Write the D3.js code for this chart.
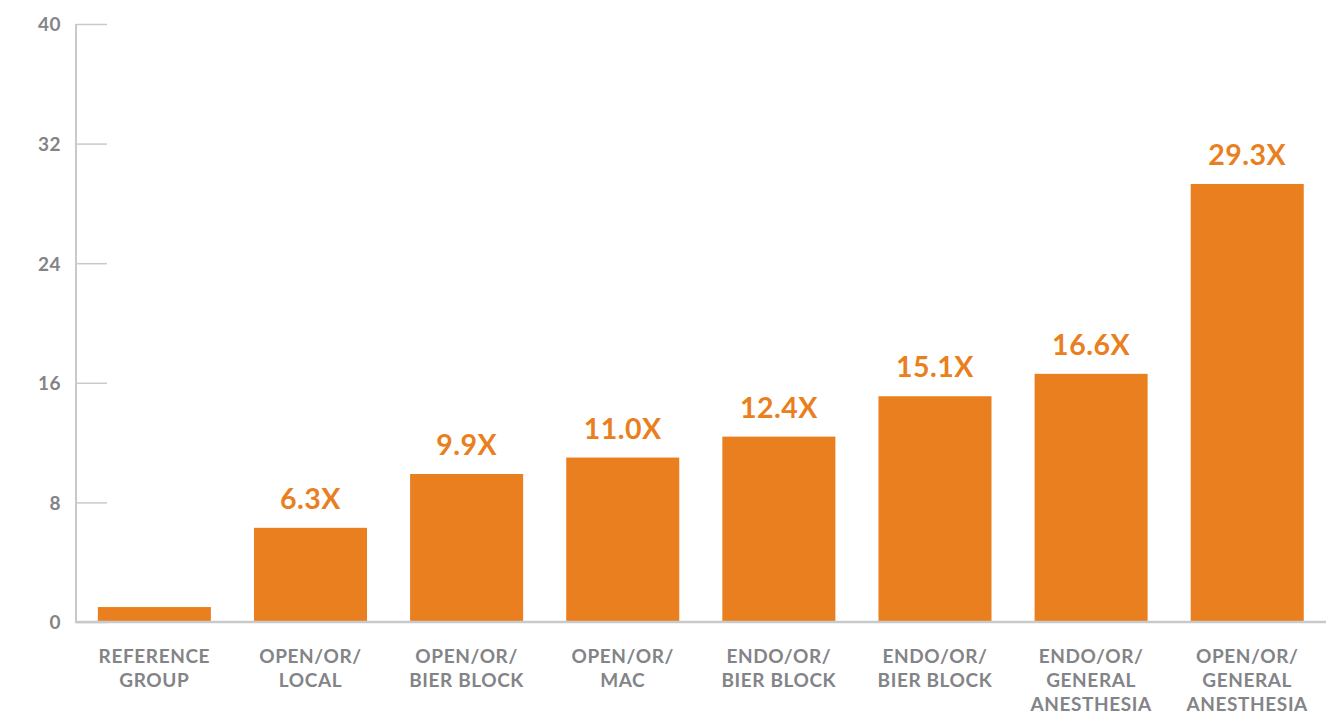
<!DOCTYPE html>
<html>
<head>
<meta charset="utf-8">
<script src="https://cdn.jsdelivr.net/npm/d3@7"></script>
<style>
  html, body { margin: 0; padding: 0; background: #ffffff; }
  svg { display: block; }
</style>
</head>
<body>
<svg id="chart" width="1336" height="714"></svg>
<script>
// Procedure categories (each label split into display lines)
const categories = [
  ["REFERENCE", "GROUP"],
  ["OPEN/OR/", "LOCAL"],
  ["OPEN/OR/", "BIER BLOCK"],
  ["OPEN/OR/", "MAC"],
  ["ENDO/OR/", "BIER BLOCK"],
  ["ENDO/OR/", "BIER BLOCK"],
  ["ENDO/OR/", "GENERAL", "ANESTHESIA"],
  ["OPEN/OR/", "GENERAL", "ANESTHESIA"]
];
// Relative values (multiples of the reference group)
const values = [1.0, 6.3, 9.9, 11.0, 12.4, 15.1, 16.6, 29.3];
// Which bars carry a value label
const showLabel = [false, true, true, true, true, true, true, true];
// Y axis ticks
const yTicks = [0, 8, 16, 24, 32, 40];

const ORANGE = "#E97F1E";
const GRAY_TEXT = "#838487";
const AXIS_GRAY = "#c8c9cb";
const FONT = "Lato, 'Open Sans', sans-serif";

const svg = d3.select("#chart");
const axisX = 76, baseY = 622, topY = 24, rightX = 1326;

const ids = categories.map((c, i) => i);
const x = d3.scaleBand()
  .domain(ids)
  .range([axisX, 76 + 8 * 156.2])
  .paddingInner(0.276)
  .paddingOuter(0.14);

const y = d3.scaleLinear().domain([0, 40]).range([baseY, topY]);

// Y axis: short tick stubs and labels
const yAxis = d3.axisLeft(y).tickValues(yTicks).tickSize(-31).tickPadding(0).tickFormat(d3.format("d"));
const gy = svg.append("g").attr("transform", `translate(${axisX},0)`).call(yAxis);
gy.select(".domain").remove();
gy.selectAll(".tick line").attr("stroke", AXIS_GRAY).attr("stroke-width", 1.5);
gy.selectAll(".tick text")
  .attr("x", -15)
  .attr("dy", "0.36em")
  .attr("fill", GRAY_TEXT)
  .style("font-family", FONT)
  .style("font-weight", 700)
  .style("font-size", "19px")
  .style("letter-spacing", "0.5px");

// Bars
svg.append("g").selectAll("rect")
  .data(values)
  .join("rect")
  .attr("x", (d, i) => x(i))
  .attr("y", d => y(d))
  .attr("width", x.bandwidth())
  .attr("height", d => baseY - y(d))
  .attr("fill", ORANGE);

// Axis lines
svg.append("line")
  .attr("x1", axisX).attr("x2", axisX)
  .attr("y1", topY).attr("y2", baseY + 1)
  .attr("stroke", AXIS_GRAY).attr("stroke-width", 2);
svg.append("line")
  .attr("x1", axisX - 1).attr("x2", rightX)
  .attr("y1", baseY).attr("y2", baseY)
  .attr("stroke", AXIS_GRAY).attr("stroke-width", 2.5);

// Value labels
svg.append("g").selectAll("text")
  .data(values.map((v, i) => ({ v, i })).filter(d => showLabel[d.i]))
  .join("text")
  .attr("x", d => x(d.i) + x.bandwidth() / 2)
  .attr("y", d => y(d.v) - 19)
  .attr("text-anchor", "middle")
  .attr("fill", ORANGE)
  .style("font-family", FONT)
  .style("font-weight", 700)
  .style("font-size", "28.5px")
  .style("letter-spacing", "0.5px")
  .text(d => d3.format(".1f")(d.v) + "X");

// Category labels
const cat = svg.append("g").selectAll("text")
  .data(categories)
  .join("text")
  .attr("x", (d, i) => x(i) + x.bandwidth() / 2)
  .attr("y", 663)
  .attr("text-anchor", "middle")
  .attr("fill", GRAY_TEXT)
  .style("font-family", FONT)
  .style("font-weight", 700)
  .style("font-size", "19px")
  .style("letter-spacing", "0.6px");
cat.selectAll("tspan")
  .data(d => d)
  .join("tspan")
  .attr("x", function () { return d3.select(this.parentNode).attr("x"); })
  .attr("dy", (d, j) => j === 0 ? 0 : 24)
  .text(d => d);
</script>
</body>
</html>
